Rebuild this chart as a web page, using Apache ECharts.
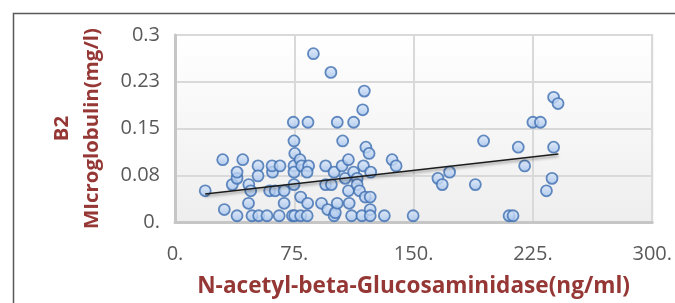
<!DOCTYPE html>
<html><head><meta charset="utf-8">
<script src="https://cdn.jsdelivr.net/npm/echarts@6/dist/echarts.min.js"></script>
<style>html,body{margin:0;padding:0;background:#fff;}#c{width:675px;height:303px;}</style>
</head><body><div id="c"></div>
<script>
// N-acetyl-beta-Glucosaminidase (ng/ml)
const nagValues = [19,30,31,36,39,39,39,42.6,46.4,47.6,46.2,48.4,52.2,52.2,52.6,57.8,
  59.5,63,68.6,61.3,61,66,68.6,65.5,
  74.4,74.8,75.3,74.8,74.8,74.8,73.8,75.2,78.6,79.6,79,79,83.6,84,83,83.4,83.1,87,
  92.1,94.7,94.7,96,98,98.3,100,100,100.8,102,102,105,105.4,107,109.5,109,109,111,
  112.3,112.3,114.5,114.5,116,117.5,118,119,118.5,119.6,120,122,123,122.7,122.7,122.7,
  131.6,136.5,139,149.7,
  165.3,168,172.6,188.8,194,210,212.5,215.8,219.8,225,229.7,233.5,237,238,238,240.8];
// B2 Microglobulin (mg/l)
const b2mValues = [0.05,0.10,0.02,0.06,0.07,0.08,0.01,0.10,0.06,0.05,0.03,0.01,0.09,0.074,0.01,0.01,
  0.05,0.05,0.05,0.08,0.09,0.09,0.03,0.01,
  0.16,0.13,0.11,0.09,0.08,0.06,0.01,0.01,0.10,0.09,0.04,0.01,0.16,0.09,0.08,0.03,0.01,0.27,
  0.03,0.09,0.06,0.02,0.24,0.06,0.08,0.01,0.015,0.16,0.03,0.09,0.13,0.07,0.03,0.10,0.05,0.01,
  0.16,0.08,0.07,0.06,0.05,0.01,0.18,0.21,0.09,0.04,0.12,0.11,0.08,0.04,0.02,0.01,
  0.01,0.10,0.09,0.01,
  0.07,0.06,0.08,0.06,0.13,0.01,0.01,0.12,0.09,0.16,0.16,0.05,0.07,0.12,0.20,0.19];
// linear trend line endpoints
const trendX = [19, 241];
const trendY = [0.045, 0.109];
const xTickLabels = ['0.','75.','150.','225.','300.'];
const yTickLabels = ['0.','0.08','0.15','0.23','0.3'];

const pts = nagValues.map((x,i)=>[x,b2mValues[i]]);
const trend = trendX.map((x,i)=>[x,trendY[i]]);
const font = '"Open Sans", Lato, sans-serif';
const chart = echarts.init(document.getElementById('c'));
chart.setOption({
  animation:false,
  graphic:[{type:'rect',left:11,top:11,shape:{width:700,height:320},
    style:{fill:'none',stroke:'#5a5a5a',lineWidth:1.5},silent:true,z:-10}],
  grid:{left:175,right:19,top:35,bottom:75,show:true,borderColor:'#d9d9d9',borderWidth:2,
    backgroundColor:new echarts.graphic.LinearGradient(0,0,0,1,[{offset:0,color:'#ffffff'},{offset:1,color:'#eeeeee'}])},
  xAxis:{type:'value',min:0,max:300,interval:75,
    axisLine:{show:true,lineStyle:{color:'#c6c6c6',width:3}},axisTick:{show:false},
    splitLine:{lineStyle:{color:'#d9d9d9',width:2}},
    axisLabel:{color:'#595959',fontSize:20,fontFamily:font,margin:22,
      formatter:(v)=>xTickLabels[Math.round(v/75)]},
    name:'N-acetyl-beta-Glucosaminidase(ng/ml)',nameLocation:'middle',nameGap:53,
    nameTextStyle:{color:'#953735',fontSize:22.6,fontWeight:'bold',fontFamily:font}},
  yAxis:{type:'value',min:0,max:0.3,interval:0.075,
    axisLine:{show:true,lineStyle:{color:'#c6c6c6',width:3}},axisTick:{show:false},
    splitLine:{lineStyle:{color:'#d9d9d9',width:2}},
    axisLabel:{color:'#595959',fontSize:20,fontFamily:font,margin:15,
      formatter:(v)=>yTickLabels[Math.round(v/0.075)]},
    name:'B2\nMIcroglobulin(mg/l)',nameLocation:'middle',nameGap:68,nameRotate:90,
    nameTextStyle:{color:'#953735',fontSize:20.4,fontWeight:'bold',fontFamily:font,lineHeight:30}},
  series:[
    {type:'scatter',data:pts,symbolSize:11,z:3,
      itemStyle:{color:new echarts.graphic.LinearGradient(0,0,0,1,[{offset:0,color:'#dde9fa'},{offset:1,color:'#9fbfeb'}]),
        borderColor:'#3f6fb2',borderWidth:1.8}},
    {type:'line',data:trend,symbol:'none',z:4,
      lineStyle:{color:'#1c1c1c',width:1.6,shadowColor:'rgba(0,0,0,0.45)',shadowBlur:3,shadowOffsetY:2}}
  ]
});
</script></body></html>
